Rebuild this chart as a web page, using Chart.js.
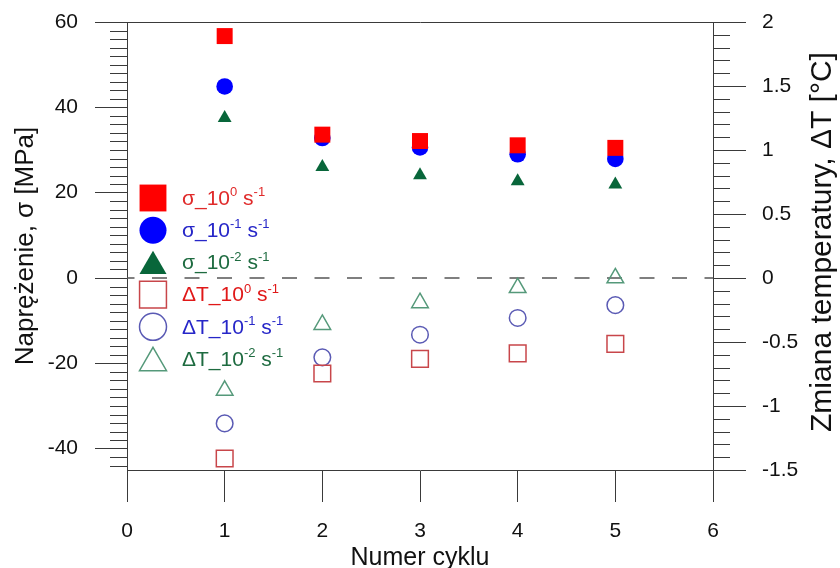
<!DOCTYPE html>
<html lang="pl">
<head>
<meta charset="utf-8">
<title>Naprężenie i zmiana temperatury</title>
<script src="https://cdn.jsdelivr.net/npm/chart.js@4.4.1/dist/chart.umd.min.js"></script>
<style>
  html, body { margin: 0; padding: 0; background: #fff; }
  #wrap { width: 840px; height: 568px; }
</style>
</head>
<body>
<div id="wrap"><canvas id="chart"></canvas></div>
<script>
// dane
const cycles = [1, 2, 3, 4, 5];
const sigmaRate0 = [56.7, 33.6, 32.1, 31.1, 30.5];   // MPa, 10^0 s^-1
const sigmaRate1 = [44.9, 32.8, 30.6, 29.0, 27.9];   // MPa, 10^-1 s^-1
const sigmaRate2 = [37.5, 26.0, 24.1, 22.7, 21.9];   // MPa, 10^-2 s^-1
const dTRate0 = [-1.41, -0.746, -0.632, -0.589, -0.515]; // °C
const dTRate1 = [-1.136, -0.62, -0.443, -0.312, -0.212];
const dTRate2 = [-0.878, -0.364, -0.194, -0.076, 0.0];

const seriesLabels = [
  'σ_10^0 s^-1', 'σ_10^-1 s^-1', 'σ_10^-2 s^-1',
  'ΔT_10^0 s^-1', 'ΔT_10^-1 s^-1', 'ΔT_10^-2 s^-1'
];
const xTicks = [0, 1, 2, 3, 4, 5, 6];
const sigmaTicks = [-40, -20, 0, 20, 40, 60];
const dTTicks = [-1.5, -1, -0.5, 0, 0.5, 1, 1.5, 2];

const FONT = "'Liberation Sans', Arial, sans-serif";
const AXIS = '#3a3a3a';
Chart.defaults.font.family = FONT;
Chart.defaults.color = '#111';

const pts = arr => arr.map((v, i) => ({ x: cycles[i], y: v }));

function series(label, data, axis, style, radius, color, open, textColor, legendR) {
  return {
    label: label,
    data: pts(data),
    yAxisID: axis,
    pointStyle: style,
    pointRadius: radius,
    pointHoverRadius: radius,
    pointBackgroundColor: open ? 'rgba(0,0,0,0)' : color,
    pointBorderColor: color,
    pointBorderWidth: open ? 1.5 : 0,
    textColor: textColor,
    legendR: legendR,
    open: open,
    markerColor: color
  };
}

const datasets = [
  series(seriesLabels[0], sigmaRate0, 'y', 'rect', 11.3, '#ff0000', false, '#e02a2a', 19),
  series(seriesLabels[1], sigmaRate1, 'y', 'circle', 8.3, '#0000ff', false, '#2626c8', 13.5),
  series(seriesLabels[2], sigmaRate2, 'y', 'triangle', 8, '#08663a', false, '#1e6b40', 15.6),
  series(seriesLabels[3], dTRate0, 'y2', 'rect', 11.8, '#c8464a', true, '#e01818', 19),
  series(seriesLabels[4], dTRate1, 'y2', 'circle', 8.3, '#5a5ab4', true, '#2626c8', 13.5),
  series(seriesLabels[5], dTRate2, 'y2', 'triangle', 9.6, '#55997a', true, '#1e6b40', 15.6),
  {
    label: 'zero',
    data: [{ x: 0, y: 0 }, { x: 6, y: 0 }],
    yAxisID: 'y',
    showLine: true,
    borderColor: '#555',
    borderWidth: 1.5,
    borderDash: [15, 17.5],
    borderDashOffset: 7.5,
    pointRadius: 0
  }
];

// ręczne rysowanie znacznika (gdyby helpers nie był dostępny)
function marker(ctx, style, r, x, y, open, color) {
  ctx.fillStyle = open ? 'rgba(0,0,0,0)' : color;
  ctx.strokeStyle = color;
  ctx.lineWidth = 1.5;
  if (Chart.helpers && Chart.helpers.drawPoint) {
    Chart.helpers.drawPoint(ctx, { pointStyle: style, radius: r, rotation: 0, borderWidth: open ? 1.5 : 0 }, x, y);
    return;
  }
  ctx.beginPath();
  if (style === 'rect') {
    const s = r * Math.SQRT1_2;
    ctx.rect(x - s, y - s, 2 * s, 2 * s);
  } else if (style === 'circle') {
    ctx.arc(x, y, r, 0, Math.PI * 2);
  } else {
    ctx.moveTo(x, y - r);
    ctx.lineTo(x + r * 0.866, y + r / 2);
    ctx.lineTo(x - r * 0.866, y + r / 2);
    ctx.closePath();
  }
  ctx.fill();
  if (open) ctx.stroke();
}

// tekst z indeksami górnymi: 10^-1
function richText(ctx, text, x, y, size) {
  const parts = text.split(/\^(-?\d+)/);
  parts.forEach((p, i) => {
    const sup = i % 2 === 1;
    ctx.font = (sup ? Math.round(size * 0.62) : size) + 'px ' + FONT;
    ctx.fillText(p, x, sup ? y - size * 0.3 : y);
    x += ctx.measureText(p).width;
  });
}

// osie pionowe bez dodatkowego marginesu od etykiet
function fitVertical(s) {
  s.width = 127;
  s.paddingTop = 0;
  s.paddingBottom = 0;
}

const extras = {
  id: 'extras',
  afterDraw(chart) {
    const { ctx, chartArea: a, scales } = chart;
    ctx.save();
    ctx.strokeStyle = AXIS;
    ctx.lineWidth = 1;

    // górna ramka
    ctx.beginPath();
    ctx.moveTo(a.left, a.top + 0.5);
    ctx.lineTo(a.right + 1, a.top + 0.5);
    ctx.stroke();

    // podziałka pomocnicza
    ctx.beginPath();
    for (let v = -44; v <= 58; v += 2) {
      if (v % 20 === 0) continue;
      const y = Math.round(scales.y.getPixelForValue(v)) + 0.5;
      ctx.moveTo(a.left - 17, y);
      ctx.lineTo(a.left, y);
    }
    for (let k = -14; k <= 19; k++) {
      if (k % 5 === 0) continue;
      const y = Math.round(scales.y2.getPixelForValue(k / 10)) + 0.5;
      ctx.moveTo(a.right, y);
      ctx.lineTo(a.right + 17, y);
    }
    ctx.stroke();

    // legenda
    const lx = 153, tx = 182, y0 = 198, dy = 32.2;
    ctx.textBaseline = 'middle';
    ctx.textAlign = 'left';
    chart.data.datasets.slice(0, 6).forEach((ds, i) => {
      const y = y0 + i * dy;
      const my = ds.pointStyle === 'triangle' ? y + ds.legendR / 4 : y;
      marker(ctx, ds.pointStyle, ds.legendR, lx, my, ds.open, ds.markerColor);
      ctx.fillStyle = ds.textColor;
      richText(ctx, ds.label, tx, y + 1, 21);
    });

    // opis prawej osi
    ctx.translate(823, (a.top + a.bottom) / 2 - 4);
    ctx.rotate(-Math.PI / 2);
    ctx.textAlign = 'center';
    ctx.fillStyle = '#111';
    ctx.font = '30px ' + FONT;
    ctx.fillText('Zmiana temperatury, ΔT [°C]', 0, 0);
    ctx.restore();
  }
};

new Chart(document.getElementById('chart'), {
  type: 'scatter',
  data: { datasets: datasets },
  options: {
    responsive: true,
    maintainAspectRatio: false,
    animation: false,
    events: [],
    layout: { padding: { top: 22, left: 0, right: 0, bottom: 0 } },
    plugins: { legend: { display: false }, tooltip: { enabled: false } },
    scales: {
      x: {
        type: 'linear',
        min: 0, max: 6,
        afterBuildTicks: s => { s.ticks = xTicks.map(v => ({ value: v })); },
        afterFit: s => { s.height = 98; },
        grid: { drawOnChartArea: false, tickLength: 32, color: AXIS },
        border: { display: true, color: AXIS },
        ticks: { font: { size: 21 }, padding: 17, maxRotation: 0 },
        title: {
          display: true, text: 'Numer cyklu', color: '#111',
          font: { size: 25, lineHeight: 0.8 }, padding: { top: 0, bottom: 0 }
        }
      },
      y: {
        type: 'linear',
        position: 'left',
        min: -45, max: 60,
        afterBuildTicks: s => { s.ticks = sigmaTicks.map(v => ({ value: v })); },
        afterFit: fitVertical,
        grid: { drawOnChartArea: false, tickLength: 32, color: AXIS },
        border: { display: true, color: AXIS },
        ticks: { font: { size: 21 }, padding: 17 },
        title: {
          display: true, text: 'Naprężenie, σ [MPa]', color: '#111',
          font: { size: 26 }, padding: { top: 10, bottom: 0 }
        }
      },
      y2: {
        type: 'linear',
        position: 'right',
        min: -1.5, max: 2,
        afterBuildTicks: s => { s.ticks = dTTicks.map(v => ({ value: v })); },
        afterFit: fitVertical,
        grid: { drawOnChartArea: false, tickLength: 33, color: AXIS },
        border: { display: true, color: AXIS },
        ticks: { font: { size: 21 }, padding: 16, callback: v => String(v) }
      }
    }
  },
  plugins: [extras]
});
</script>
</body>
</html>
